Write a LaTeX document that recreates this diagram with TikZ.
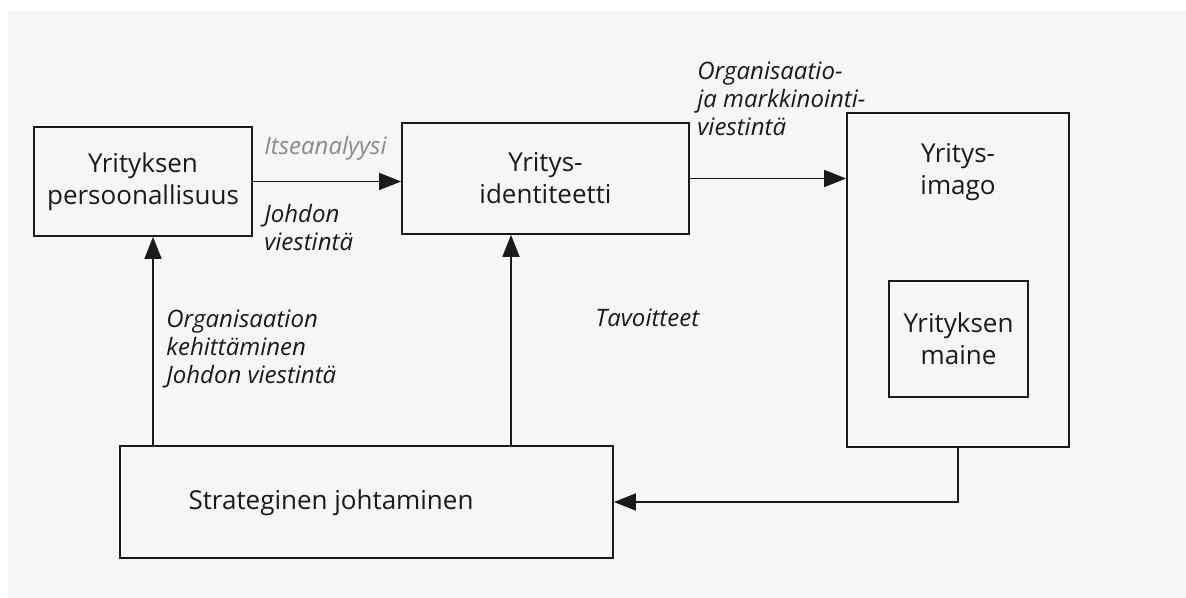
\documentclass[tikz,border=0pt]{standalone}
\usepackage{fontspec}
\setmainfont{Open Sans}
\usetikzlibrary{arrows.meta}
\definecolor{paper}{HTML}{F6F6F6}
\definecolor{ink}{HTML}{1A1A1A}
\definecolor{softink}{HTML}{8A8A8A}
\tikzset{
  box/.style={draw=ink, line width=0.9pt, inner sep=0pt},
  boxtext/.style={align=center, text=ink, font=\fontsize{13}{16}\selectfont},
  italic label/.style={align=left, text=ink, inner sep=0pt, font=\fontsize{12}{14}\selectfont\itshape},
  arr/.style={draw=ink, line width=0.9pt, -{Triangle[length=11pt,width=8.5pt]}},
}
\begin{document}
\begin{tikzpicture}[x=0.5pt, y=-0.5pt]
  % page
  \fill[white] (0,0) rectangle (1186,598);
  \fill[paper] (8,10) rectangle (1186,598);
  \useasboundingbox (0,0) rectangle (1186,598);

  % boxes
  \node[box, minimum width=109pt, minimum height=54.5pt] (pers) at (143,181.5) {};
  \node[boxtext] (perstxt) at (pers.center) {Yrityksen\\persoonallisuus};

  \node[box, minimum width=143.5pt, minimum height=55.5pt] (ident) at (545.5,178.5) {};
  \node[boxtext] (identtxt) at (ident.center) {Yritys-\\identiteetti};

  \node[box, minimum width=111pt, minimum height=167pt] (imago) at (958,280) {};
  \node[boxtext] (imagotxt) at (958,172) {Yritys-\\imago};

  \node[box, minimum width=69.5pt, minimum height=58pt] (maine) at (958.5,339) {};
  \node[boxtext] (mainetxt) at (maine.center) {Yrityksen\\maine};

  \node[box, minimum width=246.5pt, minimum height=56pt] (strat) at (366.5,502) {};
  \node[boxtext] (strattxt) at (331,503) {Strateginen johtaminen};

  % columns of the upward arrows
  \coordinate (colA) at (153,0);
  \coordinate (colB) at (511,0);

  % connectors
  \draw[arr] (pers.east) -- (pers.east -| ident.west);
  \draw[arr] (ident.east) -- (ident.east -| imago.west);
  \draw[arr] (strat.north -| colA) -- (pers.south -| colA);
  \draw[arr] (strat.north -| colB) -- (ident.south -| colB);
  \draw[arr] (imago.south) |- (strat.east);

  % connector labels
  \node[italic label, text=softink, anchor=west] (itse) at (264,148) {Itseanalyysi};
  \node[italic label, anchor=west] (johd) at (264,228) {Johdon\\viestintä};
  \node[italic label, anchor=west] (orgm) at (697,99) {Organisaatio-\\ja markkinointi-\\viestintä};
  \node[italic label, anchor=west] (orgk) at (166,349) {Organisaation\\kehittäminen\\Johdon viestintä};
  \node[italic label, anchor=west] (tav) at (595,318) {Tavoitteet};
\end{tikzpicture}
\end{document}
